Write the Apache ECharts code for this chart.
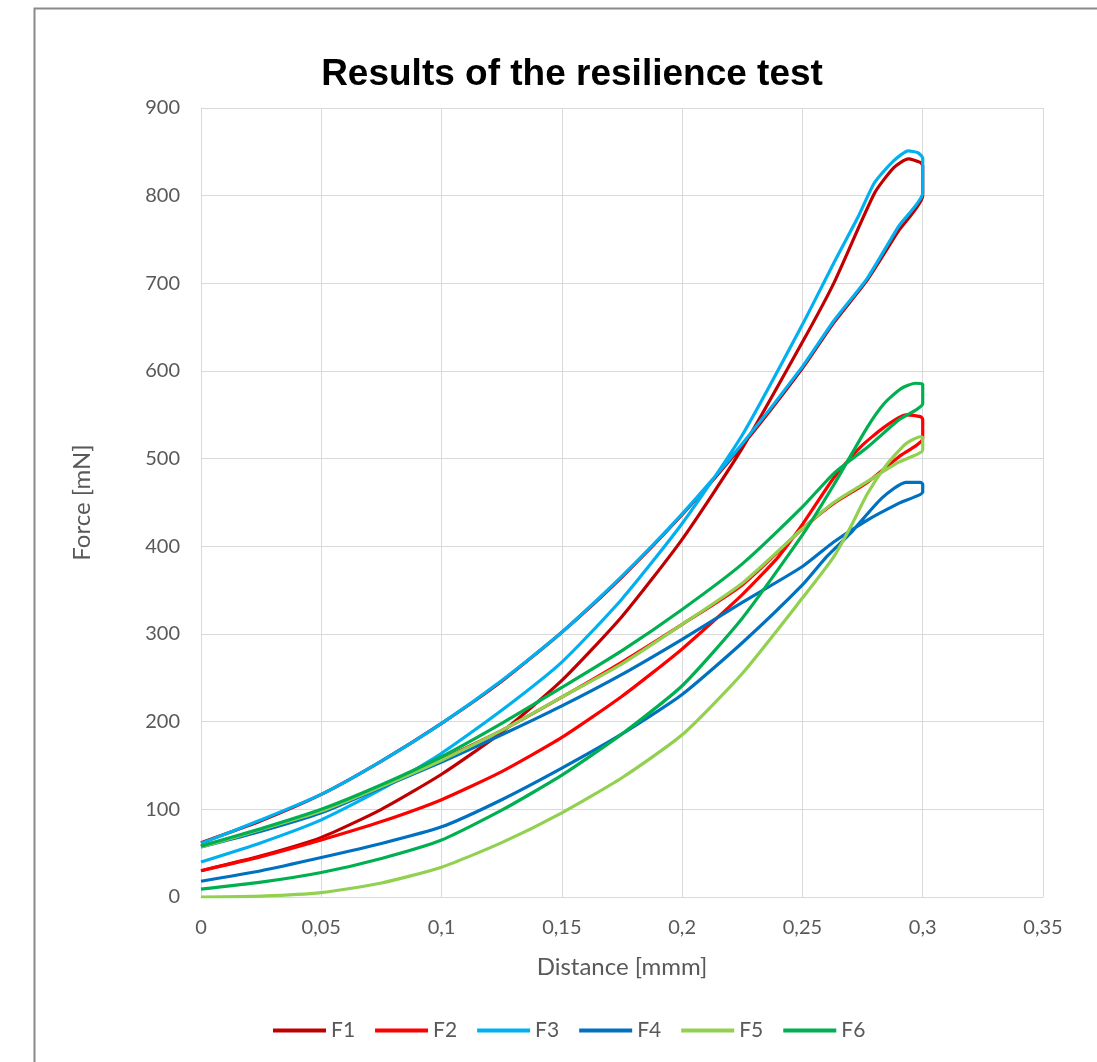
<!DOCTYPE html>
<html>
<head>
<meta charset="utf-8">
<title>Results of the resilience test</title>
<script src="https://cdn.jsdelivr.net/npm/echarts@6/dist/echarts.min.js"></script>
<style>
  html, body { margin: 0; padding: 0; background: #ffffff; }
  #chart { width: 1097px; height: 1062px; }
</style>
</head>
<body>
<div id="chart"></div>
<script>
// Hysteresis loops: [distance (mm), force (mN)], loading branch out to 0.3 mm,
// then the return branch back to 0.
const seriesNames = ['F1', 'F2', 'F3', 'F4', 'F5', 'F6'];
const seriesColors = ['#C00000', '#FF0000', '#00B0F0', '#0070C0', '#92D050', '#00B050'];

const f1 = [
  [0, 30], [0.025, 47], [0.05, 68], [0.075, 100], [0.1, 140], [0.125, 188], [0.15, 247],
  [0.175, 320], [0.2, 408], [0.225, 512], [0.25, 633], [0.263, 700], [0.28, 803],
  [0.288, 832], [0.294, 842], [0.299, 838], [0.3, 834], [0.3, 800],
  [0.29, 760], [0.277, 704], [0.263, 655], [0.25, 603], [0.225, 515], [0.2, 436],
  [0.175, 365], [0.15, 302], [0.125, 246], [0.1, 198], [0.075, 155], [0.05, 117],
  [0.025, 87], [0, 62]
];
const f2 = [
  [0, 30], [0.025, 46], [0.05, 65], [0.075, 86], [0.1, 111], [0.125, 143], [0.15, 182],
  [0.175, 229], [0.2, 283], [0.225, 345], [0.24, 388], [0.25, 425], [0.263, 478],
  [0.274, 513], [0.284, 536], [0.293, 550], [0.299, 548], [0.3, 545], [0.3, 523],
  [0.29, 502], [0.277, 473], [0.263, 449], [0.25, 420], [0.225, 356], [0.2, 311],
  [0.175, 268], [0.15, 228], [0.125, 190], [0.1, 157], [0.075, 126], [0.05, 99],
  [0.025, 77], [0, 58]
];
const f3 = [
  [0, 40], [0.025, 62], [0.05, 88], [0.075, 123], [0.1, 164], [0.125, 213], [0.15, 268],
  [0.175, 340], [0.2, 426], [0.225, 527], [0.25, 653], [0.263, 723], [0.273, 775],
  [0.28, 815], [0.288, 840], [0.294, 851], [0.298, 849], [0.3, 843], [0.3, 803],
  [0.29, 765], [0.277, 706], [0.263, 657], [0.25, 605], [0.225, 517], [0.2, 437],
  [0.175, 366], [0.15, 302], [0.125, 247], [0.1, 198], [0.075, 155], [0.05, 117],
  [0.025, 88], [0, 61]
];
const f4 = [
  [0, 18], [0.025, 30], [0.05, 45], [0.075, 61], [0.1, 80], [0.125, 111], [0.15, 147],
  [0.175, 186], [0.2, 231], [0.225, 290], [0.25, 356], [0.26, 388], [0.27, 415],
  [0.283, 455], [0.293, 473], [0.299, 473], [0.3, 471], [0.3, 462],
  [0.29, 449], [0.277, 430], [0.263, 405], [0.25, 377], [0.225, 336], [0.2, 294],
  [0.175, 254], [0.15, 218], [0.125, 185], [0.1, 154], [0.075, 125], [0.05, 96],
  [0.025, 75], [0, 57]
];
const f5 = [
  [0, 0], [0.025, 1], [0.05, 5], [0.075, 16], [0.1, 34], [0.125, 62], [0.15, 96],
  [0.175, 136], [0.2, 185], [0.225, 255], [0.25, 341], [0.263, 388], [0.27, 422],
  [0.277, 460], [0.285, 493], [0.293, 517], [0.299, 525], [0.3, 524], [0.3, 510],
  [0.29, 496], [0.277, 474], [0.263, 450], [0.25, 420], [0.225, 358], [0.2, 311],
  [0.175, 266], [0.15, 228], [0.125, 190], [0.1, 156], [0.075, 126], [0.05, 98],
  [0.025, 77], [0, 57]
];
const f6 = [
  [0, 9], [0.025, 17], [0.05, 28], [0.075, 44], [0.1, 65], [0.125, 99], [0.15, 139],
  [0.175, 186], [0.2, 241], [0.225, 318], [0.25, 413], [0.263, 470], [0.277, 536],
  [0.284, 563], [0.291, 580], [0.297, 586], [0.3, 585], [0.3, 563],
  [0.29, 544], [0.277, 513], [0.263, 483], [0.25, 445], [0.225, 380], [0.2, 328],
  [0.175, 281], [0.15, 239], [0.125, 198], [0.1, 160], [0.075, 128], [0.05, 100],
  [0.025, 78], [0, 58]
];
const seriesData = [f1, f2, f3, f4, f5, f6];

// Axis scales
const xMin = 0, xMax = 0.35, xStep = 0.05;
const yMin = 0, yMax = 900, yStep = 100;

const labelFont = 'Lato, "Open Sans", sans-serif';
const textGray = '#595959';
const gridGray = '#D9D9D9';

const chart = echarts.init(document.getElementById('chart'), null, { renderer: 'canvas' });

chart.setOption({
  backgroundColor: '#ffffff',
  animation: false,
  graphic: [{
    type: 'rect',
    left: 32, top: 6,
    shape: { width: 1100, height: 1100 },
    style: { fill: 'none', stroke: '#8a8a8a', lineWidth: 2 },
    silent: true, z: -10
  }],
  title: {
    text: 'Results of the resilience test',
    left: 567, top: 51, textAlign: 'center',
    textStyle: {
      fontFamily: '"Liberation Sans", Arial, sans-serif',
      fontWeight: 'bold', fontSize: 37, color: '#000000'
    }
  },
  grid: { left: 201, right: 54, top: 108, bottom: 165, containLabel: false },
  legend: {
    data: seriesNames,
    left: 273, top: 1020, padding: 0,
    itemWidth: 53, itemHeight: 4, itemGap: 20,
    icon: 'rect',
    textStyle: { fontFamily: labelFont, fontSize: 21, color: textGray }
  },
  xAxis: {
    type: 'value', min: xMin, max: xMax, interval: xStep,
    name: 'Distance [mmm]', nameLocation: 'middle', nameGap: 58,
    nameTextStyle: { fontFamily: labelFont, fontSize: 24, color: textGray },
    axisLine: { show: true, lineStyle: { color: gridGray, width: 1 } },
    axisTick: { show: false },
    axisLabel: {
      margin: 21, fontFamily: labelFont, fontSize: 20, color: textGray,
      formatter: v => String(Math.round(v * 100) / 100).replace('.', ',')
    },
    splitLine: { show: true, lineStyle: { color: gridGray, width: 1 } }
  },
  yAxis: {
    type: 'value', min: yMin, max: yMax, interval: yStep,
    name: 'Force [mN]', nameLocation: 'middle', nameGap: 107,
    nameTextStyle: { fontFamily: labelFont, fontSize: 24, color: textGray },
    axisLine: { show: true, lineStyle: { color: gridGray, width: 1 } },
    axisTick: { show: false },
    axisLabel: { margin: 21, fontFamily: labelFont, fontSize: 20, color: textGray },
    splitLine: { show: true, lineStyle: { color: gridGray, width: 1 } }
  },
  series: seriesNames.map((name, i) => ({
    name: name,
    type: 'line',
    data: seriesData[i],
    symbol: 'none',
    smooth: 0.2,
    color: seriesColors[i],
    lineStyle: { color: seriesColors[i], width: 3.2 },
    emphasis: { disabled: true }
  }))
});
</script>
</body>
</html>
